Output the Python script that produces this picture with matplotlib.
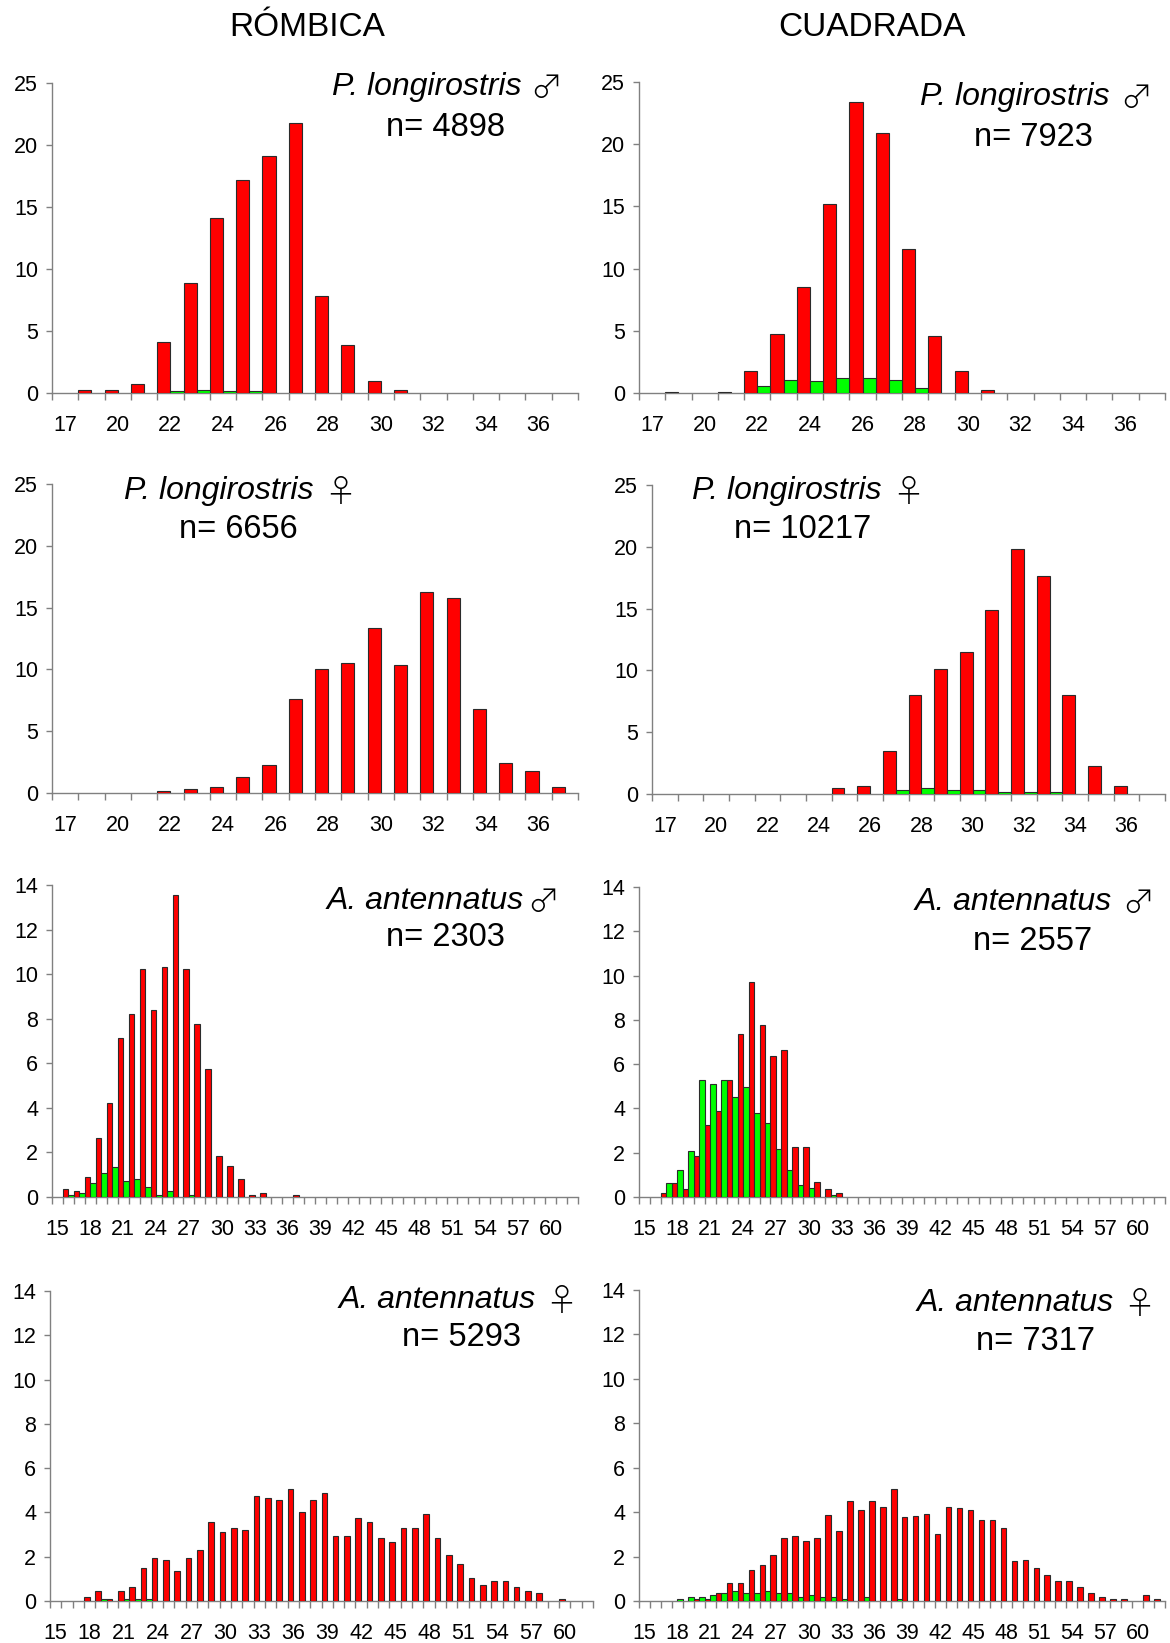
import numpy as np
import matplotlib
matplotlib.use('Agg')
import matplotlib.pyplot as plt

plt.rcParams['font.family'] = ['Liberation Sans', 'DejaVu Sans']

W, H = 1170, 1643

# size classes (mm) for P. longirostris, every other one labelled
cats_p = ['17', '19', '20', '21', '22', '23', '24', '25', '26', '27',
          '28', '29', '30', '31', '32', '33', '34', '35', '36', '37']
# size classes (mm) for A. antennatus
cats_a = [str(v) for v in range(15, 63)]

# P. longirostris males
pl_m_rom_red = [0, 0.27, 0.27, 0.75, 4.15, 8.9, 14.1, 17.2, 19.1, 21.8,
                7.8, 3.85, 0.95, 0.27, 0, 0, 0, 0, 0, 0]
pl_m_rom_green = [0, 0, 0, 0, 0.13, 0.27, 0.13, 0.13, 0, 0,
                  0, 0, 0, 0, 0, 0, 0, 0, 0, 0]
pl_m_cua_red = [0, 0.1, 0, 0.1, 1.74, 4.75, 8.55, 15.17, 23.42, 20.9,
                11.57, 4.6, 1.74, 0.27, 0, 0, 0, 0, 0, 0]
pl_m_cua_green = [0, 0, 0, 0, 0.6, 1.07, 0.93, 1.23, 1.23, 1.07,
                  0.43, 0, 0, 0, 0, 0, 0, 0, 0, 0]

# P. longirostris females
pl_f_rom_red = [0, 0, 0, 0, 0.15, 0.3, 0.46, 1.26, 2.26, 7.63,
                10.05, 10.54, 13.36, 10.35, 16.26, 15.78, 6.83, 2.39, 1.75, 0.46]
pl_f_rom_green = [0] * 20
pl_f_cua_red = [0, 0, 0, 0, 0, 0, 0, 0.46, 0.62, 3.5,
                8.0, 10.1, 11.47, 14.88, 19.8, 17.6, 8.0, 2.24, 0.62, 0]
pl_f_cua_green = [0, 0, 0, 0, 0, 0, 0, 0, 0, 0.3,
                  0.46, 0.3, 0.3, 0.13, 0.13, 0.13, 0, 0, 0, 0]

# A. antennatus males
aa_m_rom_red = [0, 0.34, 0.27, 0.89, 2.65, 4.24, 7.13, 8.2, 10.22, 8.38,
                10.3, 13.57, 10.22, 7.76, 5.74, 1.86, 1.41, 0.8, 0.09, 0.18,
                0, 0, 0.09, 0, 0, 0, 0, 0, 0, 0,
                0, 0, 0, 0, 0, 0, 0, 0, 0, 0,
                0, 0, 0, 0, 0, 0, 0, 0]
aa_m_rom_green = [0, 0.09, 0.18, 0.62, 1.07, 1.34, 0.71, 0.8, 0.45, 0.09,
                  0.27, 0, 0.09, 0, 0, 0, 0, 0, 0, 0,
                  0, 0, 0, 0, 0, 0, 0, 0, 0, 0,
                  0, 0, 0, 0, 0, 0, 0, 0, 0, 0,
                  0, 0, 0, 0, 0, 0, 0, 0]
aa_m_cua_red = [0, 0, 0.19, 0.61, 0.34, 1.84, 3.25, 3.88, 5.3, 7.36,
                9.72, 7.78, 6.36, 6.64, 2.28, 2.28, 0.7, 0.34, 0.16, 0,
                0, 0, 0, 0, 0, 0, 0, 0, 0, 0,
                0, 0, 0, 0, 0, 0, 0, 0, 0, 0,
                0, 0, 0, 0, 0, 0, 0, 0]
aa_m_cua_green = [0, 0, 0.61, 1.24, 2.1, 5.3, 5.12, 5.3, 4.5, 4.96,
                  3.78, 3.36, 2.18, 1.24, 0.52, 0.42, 0, 0.07, 0, 0,
                  0, 0, 0, 0, 0, 0, 0, 0, 0, 0,
                  0, 0, 0, 0, 0, 0, 0, 0, 0, 0,
                  0, 0, 0, 0, 0, 0, 0, 0]

# A. antennatus females
aa_f_rom_red = [0, 0, 0, 0.18, 0.44, 0.1, 0.44, 0.63, 1.5, 1.96,
                1.87, 1.34, 1.96, 2.32, 3.57, 3.12, 3.3, 3.19, 4.73, 4.65,
                4.55, 5.07, 4.02, 4.55, 4.89, 2.94, 2.94, 3.75, 3.57, 2.85,
                2.66, 3.3, 3.3, 3.91, 2.85, 2.06, 1.69, 1.05, 0.71, 0.89,
                0.89, 0.63, 0.44, 0.36, 0, 0.09, 0, 0]
aa_f_rom_green = [0, 0, 0, 0, 0.1, 0, 0.1, 0.1, 0.1, 0,
                  0, 0, 0, 0, 0, 0, 0, 0, 0, 0,
                  0, 0, 0, 0, 0, 0, 0, 0, 0, 0,
                  0, 0, 0, 0, 0, 0, 0, 0, 0, 0,
                  0, 0, 0, 0, 0, 0, 0, 0]
aa_f_cua_red = [0, 0, 0, 0, 0, 0.1, 0.1, 0.36, 0.8, 0.8,
                1.4, 1.6, 2.05, 2.84, 2.92, 2.72, 2.83, 3.89, 3.17, 4.52,
                4.09, 4.52, 4.25, 5.04, 3.8, 3.82, 3.91, 3.0, 4.25, 4.18,
                4.09, 3.64, 3.64, 3.28, 1.78, 1.86, 1.5, 1.15, 0.88, 0.88,
                0.63, 0.36, 0.18, 0.09, 0.09, 0, 0.27, 0.09]
aa_f_cua_green = [0, 0, 0, 0.1, 0.18, 0.18, 0.25, 0.36, 0.43, 0.36,
                  0.36, 0.43, 0.36, 0.36, 0.18, 0.25, 0.18, 0.18, 0.1, 0,
                  0.18, 0, 0, 0.07, 0, 0, 0, 0, 0, 0,
                  0, 0, 0, 0, 0, 0, 0, 0, 0, 0,
                  0, 0, 0, 0, 0, 0, 0, 0]

RED = '#ff0000'
GREEN = '#00ff00'
EDGE = '#2b2b2b'
AXIS = '#808080'
SYM_FONT = ['Noto Sans CJK JP', 'DejaVu Sans']


def px_box(left, right, top, bottom):
    return [left / W, 1 - bottom / H, (right - left) / W, (bottom - top) / H]


def panel(fig, box, cats, red, green, ymax, ystep, every):
    ax = fig.add_axes(px_box(*box))
    n = len(cats)
    x = np.arange(n)
    red = np.array(red, dtype=float)
    green = np.array(green, dtype=float)
    r = red > 0
    g = green > 0
    ax.bar(x[r] - 0.25, red[r], width=0.5, color=RED, edgecolor=EDGE, linewidth=0.8, zorder=3)
    ax.bar(x[g] + 0.25, green[g], width=0.5, color=GREEN, edgecolor=EDGE, linewidth=0.8, zorder=3)

    ax.set_xlim(-0.5, n - 0.5)
    ax.set_ylim(0, ymax)
    for s in ['top', 'right']:
        ax.spines[s].set_visible(False)
    for s in ['left', 'bottom']:
        ax.spines[s].set_color(AXIS)
        ax.spines[s].set_linewidth(1.0)

    ax.set_yticks(np.arange(0, ymax + 0.1, ystep))
    ax.tick_params(axis='y', length=4, width=1, color=AXIS, pad=6, labelsize=15.5)

    ax.set_xticks(x[::every])
    ax.set_xticklabels(cats[::every])
    ax.set_xticks(np.arange(-0.5, n, 1.0), minor=True)
    ax.tick_params(axis='x', which='major', length=0, pad=16, labelsize=15.5)
    ax.tick_params(axis='x', which='minor', length=5, width=1, color=AXIS)
    return ax


def label(fig, name, sym, name_right, name_y, sym_x, n_text, n_x, n_y):
    fig.text(name_right / W, 1 - name_y / H, name, ha='right', va='center',
             fontsize=23, fontstyle='italic')
    fig.text(sym_x / W, 1 - (name_y + 2) / H, sym, ha='center', va='center',
             fontsize=23, family=SYM_FONT, fontweight='light')
    fig.text(n_x / W, 1 - n_y / H, n_text, ha='center', va='center',
             fontsize=23.5)


def main():
    fig = plt.figure(figsize=(W / 100, H / 100), dpi=100)

    fig.text(307 / W, 1 - 28 / H, 'RÓMBICA', ha='center', va='center', fontsize=24)
    fig.text(872 / W, 1 - 28 / H, 'CUADRADA', ha='center', va='center', fontsize=24)

    panel(fig, (52, 578, 83, 393), cats_p, pl_m_rom_red, pl_m_rom_green, 25, 5, 2)
    panel(fig, (639, 1165, 82, 393), cats_p, pl_m_cua_red, pl_m_cua_green, 25, 5, 2)
    panel(fig, (52, 578, 484, 793), cats_p, pl_f_rom_red, pl_f_rom_green, 25, 5, 2)
    panel(fig, (652, 1165, 485, 794), cats_p, pl_f_cua_red, pl_f_cua_green, 25, 5, 2)
    panel(fig, (52, 578, 885, 1197), cats_a, aa_m_rom_red, aa_m_rom_green, 14, 2, 3)
    panel(fig, (639, 1165, 887, 1197), cats_a, aa_m_cua_red, aa_m_cua_green, 14, 2, 3)
    panel(fig, (50, 593, 1291, 1601), cats_a, aa_f_rom_red, aa_f_rom_green, 14, 2, 3)
    panel(fig, (639, 1165, 1290, 1601), cats_a, aa_f_cua_red, aa_f_cua_green, 14, 2, 3)

    label(fig, 'P. longirostris', '♂', 521, 87, 546, 'n= 4898', 445, 127)
    label(fig, 'P. longirostris', '♂', 1110, 97, 1136, 'n= 7923', 1033, 137)
    label(fig, 'P. longirostris', '♀', 314, 491, 340, 'n= 6656', 238, 530)
    label(fig, 'P. longirostris', '♀', 882, 491, 908, 'n= 10217', 803, 530)
    label(fig, 'A. antennatus', '♂', 524, 901, 543, 'n= 2303', 445, 938)
    label(fig, 'A. antennatus', '♂', 1112, 902, 1138, 'n= 2557', 1033, 941)
    label(fig, 'A. antennatus', '♀', 536, 1300, 561, 'n= 5293', 461, 1338)
    label(fig, 'A. antennatus', '♀', 1114, 1303, 1139, 'n= 7317', 1035, 1342)

    fig.savefig('out.png', dpi=100)


if __name__ == "__main__":
    main()
